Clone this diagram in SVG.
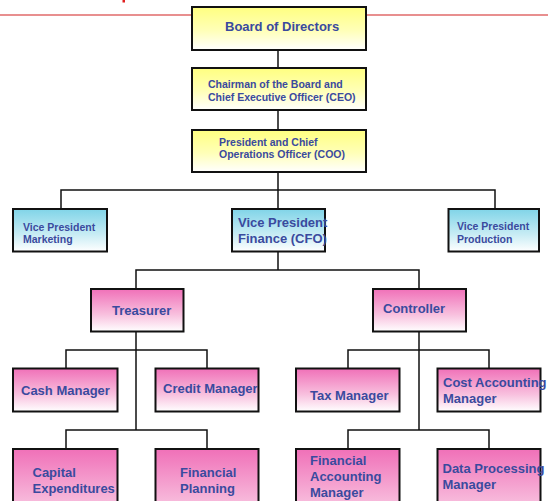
<svg xmlns="http://www.w3.org/2000/svg" width="548" height="501" viewBox="0 0 548 501">
<defs>
<linearGradient id="gy" x1="0" y1="0" x2="0" y2="1">
<stop offset="0" stop-color="#FFFF80"/><stop offset="0.55" stop-color="#FFFFB8"/><stop offset="1" stop-color="#FFFFFF"/>
</linearGradient>
<linearGradient id="gc" x1="0" y1="0" x2="0" y2="1">
<stop offset="0" stop-color="#80D4E8"/><stop offset="0.6" stop-color="#C8ECF4"/><stop offset="1" stop-color="#FFFFFF"/>
</linearGradient>
<linearGradient id="gp" x1="0" y1="0" x2="0" y2="1">
<stop offset="0" stop-color="#F070B8"/><stop offset="0.6" stop-color="#F8C0DE"/><stop offset="1" stop-color="#FFFFFF"/>
</linearGradient>
<linearGradient id="gp2" x1="0" y1="0" x2="0" y2="1">
<stop offset="0" stop-color="#F070B8"/><stop offset="1" stop-color="#F8C4E0"/>
</linearGradient>
<style>
.b{stroke:#111;stroke-width:2}
.y{fill:url(#gy)}.c{fill:url(#gc)}.p{fill:url(#gp)}.p2{fill:url(#gp2)}
text{font-family:"Liberation Sans",Arial,sans-serif;font-weight:bold;fill:#3A4A9E}
.s{font-size:10.5px}.m{font-size:13px}
.ln{fill:none;stroke:#111;stroke-width:1.5}
</style>
</defs>
<rect x="122.5" y="0" width="2.5" height="2.5" fill="#E02020"/>
<line x1="0" y1="15" x2="548" y2="15" stroke="#E06A6A" stroke-width="1.5"/>
<g id="connectors" class="ln">
<path d="M278 50V68M278 110V130M278 172V209"/>
<path d="M61 209V190H495V209"/>
<path d="M278 251V270M136 289V270H419V289"/>
<path d="M136 331V430M66 369V350H207V369"/>
<path d="M419 331V430M348 369V350H489V369"/>
<path d="M66 449V430H207V449M348 449V430H489V449"/>
</g>
<g id="board"><rect class="b y" x="192" y="7" width="174" height="43"/><text class="m" x="225" y="30.5">Board of Directors</text></g>
<g id="ceo"><rect class="b y" x="192" y="68" width="174" height="42"/><text class="s" x="208" y="88">Chairman of the Board and</text><text class="s" x="208" y="101">Chief Executive Officer (CEO)</text></g>
<g id="coo"><rect class="b y" x="192" y="130" width="174" height="42"/><text class="s" x="219" y="146">President and Chief</text><text class="s" x="219" y="158">Operations Officer (COO)</text></g>
<g id="vp-marketing"><rect class="b c" x="13" y="209" width="94" height="42.5"/><text class="s" x="23" y="230.7">Vice President</text><text class="s" x="23" y="243.3">Marketing</text></g>
<g id="vp-finance"><rect class="b c" x="232" y="209" width="93" height="42.5"/><text class="m" x="238" y="226.7">Vice President</text><text class="m" x="238" y="242.7">Finance (CFO)</text></g>
<g id="vp-production"><rect class="b c" x="448.5" y="209" width="90.5" height="42.5"/><text class="s" x="457" y="230">Vice President</text><text class="s" x="457" y="243.3">Production</text></g>
<g id="treasurer"><rect class="b p" x="91" y="289" width="92.5" height="42.5"/><text class="m" x="112" y="315">Treasurer</text></g>
<g id="controller"><rect class="b p" x="373" y="289" width="93" height="42.5"/><text class="m" x="383" y="312.7">Controller</text></g>
<g id="cash-manager"><rect class="b p" x="13" y="368.5" width="104.5" height="43"/><text class="m" x="21" y="395">Cash Manager</text></g>
<g id="credit-manager"><rect class="b p" x="155.5" y="368.5" width="103" height="43"/><text class="m" x="163" y="392.7">Credit Manager</text></g>
<g id="tax-manager"><rect class="b p" x="296" y="368.5" width="103.5" height="43"/><text class="m" x="310" y="400">Tax Manager</text></g>
<g id="cost-accounting-manager"><rect class="b p" x="437.5" y="368.5" width="103" height="43"/><text class="m" x="443" y="387.3">Cost Accounting</text><text class="m" x="443" y="403.3">Manager</text></g>
<g id="capital-expenditures"><rect class="b p2" x="13" y="449" width="104.5" height="60"/><text class="m" x="32.5" y="476.5">Capital</text><text class="m" x="32.5" y="492.8">Expenditures</text></g>
<g id="financial-planning"><rect class="b p2" x="155.5" y="449" width="103" height="60"/><text class="m" x="180" y="476.5">Financial</text><text class="m" x="180" y="492.8">Planning</text></g>
<g id="financial-accounting-manager"><rect class="b p2" x="296" y="449" width="103.5" height="60"/><text class="m" x="310" y="464.7">Financial</text><text class="m" x="310" y="480.7">Accounting</text><text class="m" x="310" y="496.5">Manager</text></g>
<g id="data-processing-manager"><rect class="b p2" x="437.5" y="449" width="103" height="60"/><text class="m" x="442.5" y="472.7">Data Processing</text><text class="m" x="442.5" y="488.5">Manager</text></g>
</svg>
